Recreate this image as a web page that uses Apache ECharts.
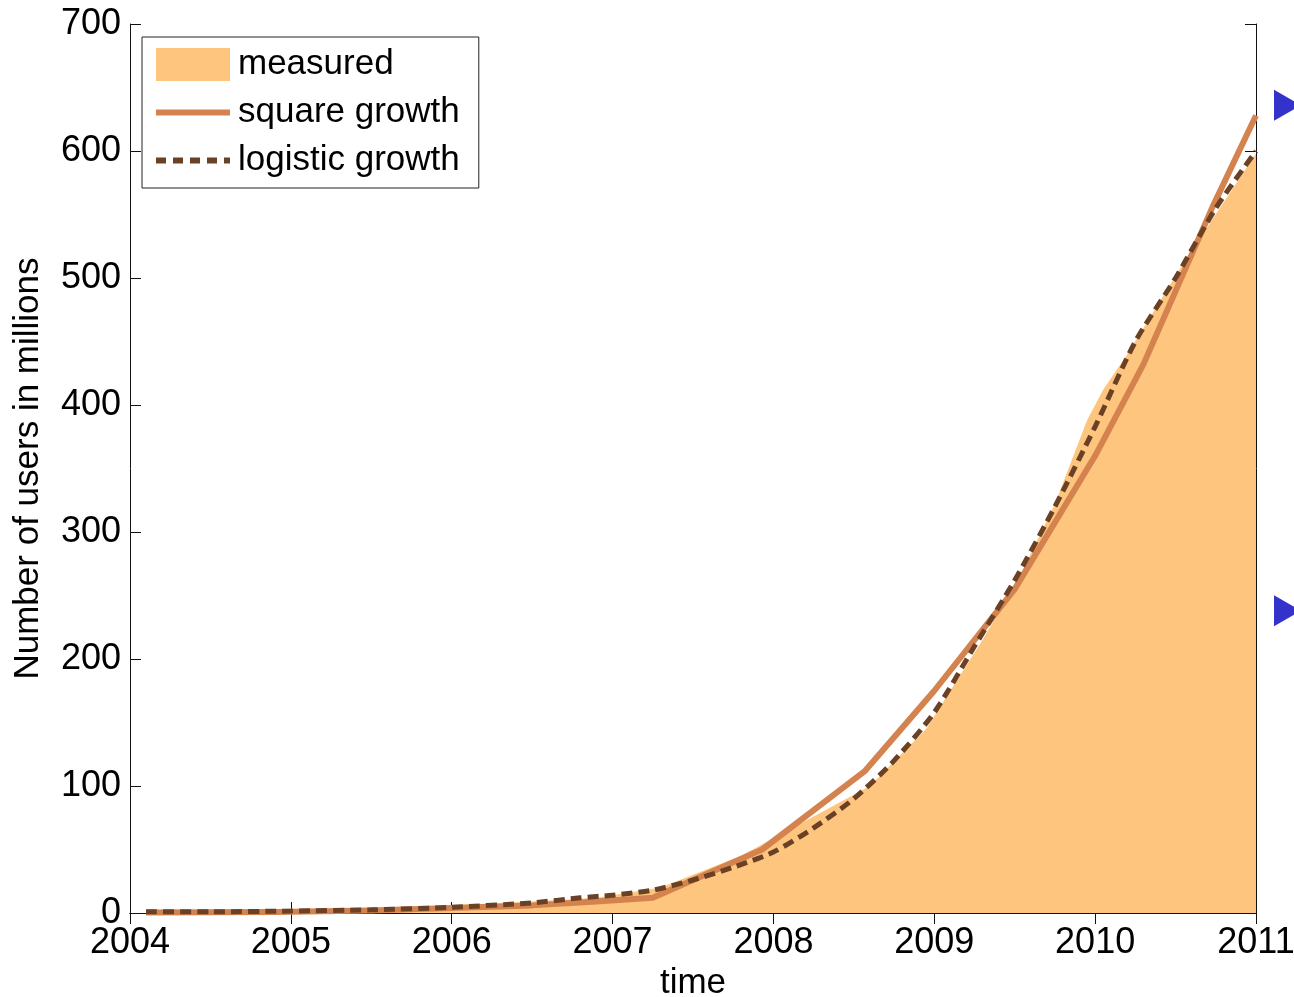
<!DOCTYPE html>
<html>
<head>
<meta charset="utf-8">
<title>Number of users in millions</title>
<script src="https://cdn.jsdelivr.net/npm/echarts@6/dist/echarts.min.js"></script>
<style>
  html, body { margin: 0; padding: 0; background: #ffffff; }
  #chart { width: 1294px; height: 997px; }
</style>
</head>
<body>
<div id="chart"></div>
<script>
// Measured user counts (time in decimal years, users in millions)
const measuredTime  = [2004.1, 2004.9, 2005.5, 2005.9, 2006.5, 2006.9, 2007.3, 2007.8, 2008.6, 2008.95, 2009.1, 2009.3, 2009.55, 2009.75, 2009.95, 2010.05, 2010.2, 2010.55, 2011.0];
const measuredUsers = [0.5, 1, 2.5, 5.5, 9, 12, 20, 45, 100, 145, 175, 215, 270, 322, 388, 412, 440, 512, 598];

// Square growth fit
const squareTime  = [2004.1, 2004.9, 2005.5, 2005.9, 2006.5, 2006.9, 2007.25, 2007.93, 2008.57, 2009.0, 2009.5, 2010.0, 2010.3, 2010.73, 2011.0];
const squareUsers = [0.3, 0.8, 2, 3.5, 6, 9, 12, 50, 112, 175, 255, 360, 432, 556, 628];

// Logistic growth fit
const logisticTime  = [2004.1, 2004.5, 2005.0, 2005.5, 2006.0, 2006.5, 2006.8, 2007.0, 2007.25, 2007.5, 2007.75, 2008.0, 2008.25, 2008.5, 2008.75, 2009.0, 2009.25, 2009.5, 2009.75, 2010.0, 2010.25, 2010.5, 2010.75, 2011.0];
const logisticUsers = [1, 1, 1.5, 2.5, 4.5, 8, 12, 14, 18, 26, 36, 48, 67, 90, 120, 158, 210, 262, 320, 383, 450, 500, 555, 600];

// Side markers beyond the right edge of the axes
const markerTime  = [2011.196, 2011.196];
const markerUsers = [636, 238];

// Axis ticks
const yearTicks = [2004, 2005, 2006, 2007, 2008, 2009, 2010, 2011];
const userTicks = [0, 100, 200, 300, 400, 500, 600, 700];

const zip = (xs, ys) => xs.map((x, i) => [x, ys[i]]);

const FONT = "'Liberation Sans', Arial, Helvetica, sans-serif";
const C_MEASURED = '#fec57e';
const C_SQUARE = '#d4834f';
const C_LOGISTIC = '#6b4125';
const NO_SYMBOL = { color: 'rgba(0,0,0,0)', borderWidth: 0, opacity: 0 };

const chart = echarts.init(document.getElementById('chart'), null, { renderer: 'canvas' });

const xMin = yearTicks[0], xMax = yearTicks[yearTicks.length - 1];
const yMin = userTicks[0], yMax = userTicks[userTicks.length - 1];

const baseAxisLine = { show: true, lineStyle: { color: '#111', width: 1 } };
const innerTick = { show: true, inside: true, length: 11, lineStyle: { color: '#111', width: 1 } };

chart.setOption({
  animation: false,
  backgroundColor: '#ffffff',
  textStyle: { fontFamily: FONT },
  grid: { left: 130, right: 38, top: 24, bottom: 84, containLabel: false, outerBoundsMode: 'none' },
  legend: {
    orient: 'vertical',
    left: 142,
    top: 37,
    padding: [10, 19, 10, 11],
    itemWidth: 74,
    itemHeight: 33,
    itemGap: 13,
    backgroundColor: '#ffffff',
    borderColor: '#222',
    borderWidth: 1,
    borderRadius: 0,
    textStyle: { fontFamily: FONT, fontSize: 35, color: '#000', padding: [0, 0, 0, 3] },
    data: [
      { name: 'measured', icon: 'rect', itemStyle: { color: C_MEASURED } },
      { name: 'square growth', itemStyle: NO_SYMBOL,
        lineStyle: { width: 6, color: C_SQUARE, type: 'solid', cap: 'butt' } },
      { name: 'logistic growth', itemStyle: NO_SYMBOL,
        lineStyle: { width: 6, color: C_LOGISTIC, type: [10, 7], cap: 'butt' } }
    ]
  },
  xAxis: [
    {
      type: 'value', min: xMin, max: xMax, interval: 1,
      name: 'time', nameLocation: 'middle', nameGap: 52,
      nameTextStyle: { fontFamily: FONT, fontSize: 35, color: '#000' },
      axisLine: baseAxisLine, axisTick: innerTick,
      axisLabel: { fontFamily: FONT, fontSize: 36, color: '#000', margin: 12, formatter: v => String(v) },
      splitLine: { show: false }
    },
    {
      type: 'value', position: 'top', min: xMin, max: xMax, interval: 1,
      axisLine: baseAxisLine, axisTick: innerTick,
      axisLabel: { show: false }, splitLine: { show: false }
    }
  ],
  yAxis: [
    {
      type: 'value', min: yMin, max: yMax, interval: 100,
      name: 'Number of users in millions', nameLocation: 'middle', nameGap: 84, nameRotate: 90,
      nameTextStyle: { fontFamily: FONT, fontSize: 35, color: '#000' },
      axisLine: baseAxisLine, axisTick: innerTick,
      axisLabel: { fontFamily: FONT, fontSize: 36, color: '#000', margin: 9, formatter: v => String(v) },
      splitLine: { show: false }
    },
    {
      type: 'value', position: 'right', min: yMin, max: yMax, interval: 100,
      axisLine: baseAxisLine, axisTick: innerTick,
      axisLabel: { show: false }, splitLine: { show: false }
    }
  ],
  series: [
    {
      name: 'measured', type: 'line', data: zip(measuredTime, measuredUsers),
      symbol: 'none', lineStyle: { width: 0, color: C_MEASURED },
      itemStyle: { color: C_MEASURED },
      areaStyle: { color: C_MEASURED, opacity: 1 },
      z: 1
    },
    {
      name: 'square growth', type: 'line', data: zip(squareTime, squareUsers),
      symbol: 'none',
      lineStyle: { width: 6, color: C_SQUARE, cap: 'butt', join: 'round' },
      itemStyle: { color: C_SQUARE },
      z: 2
    },
    {
      name: 'logistic growth', type: 'line', data: zip(logisticTime, logisticUsers),
      symbol: 'none', smooth: 0.25,
      lineStyle: { width: 5, color: C_LOGISTIC, type: [11, 6], cap: 'butt' },
      itemStyle: { color: C_LOGISTIC },
      z: 3
    },
    {
      name: 'markers', type: 'scatter', data: zip(markerTime, markerUsers),
      symbol: 'triangle', symbolSize: [31, 27], symbolRotate: -90,
      itemStyle: { color: '#3333cc', opacity: 1 },
      clip: false, silent: true, z: 4
    }
  ]
});
</script>
</body>
</html>
